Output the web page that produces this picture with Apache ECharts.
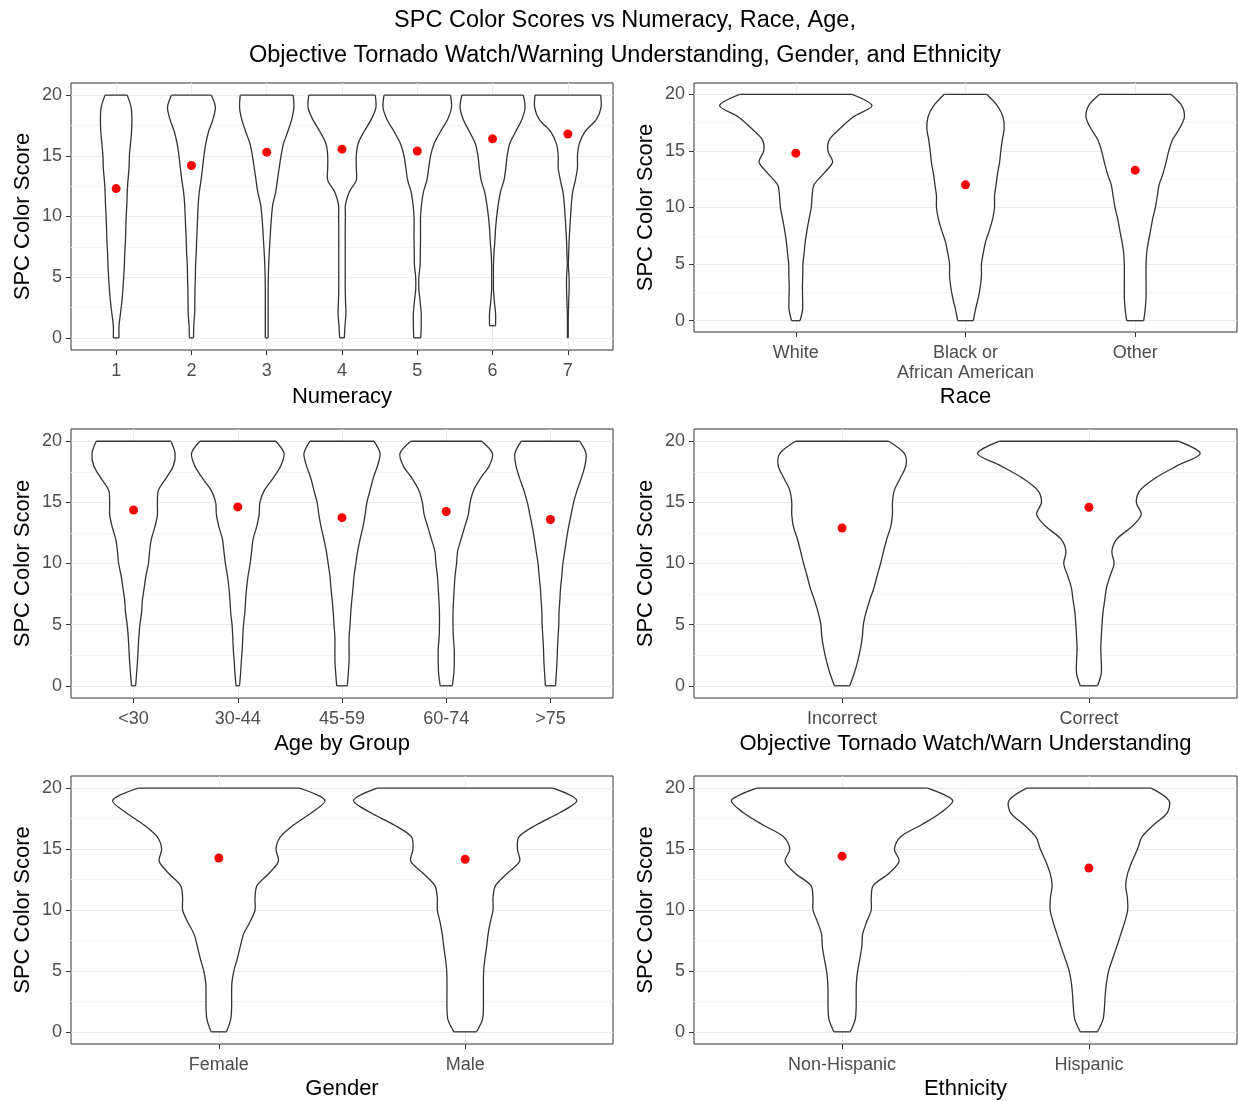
<!DOCTYPE html>
<html>
<head>
<meta charset="utf-8">
<script src="https://cdn.jsdelivr.net/npm/echarts@6/dist/echarts.min.js"></script>
<style>
  html, body { margin: 0; padding: 0; background: #fff; }
  #chart { width: 1238px; height: 1101px; }
</style>
</head>
<body>
<div id="chart"></div>
<script>
// score levels where the violin half-widths were read (0..20)
const scoreLevels = [0, 1, 2, 3, 4, 5, 6, 7, 8, 9, 10, 11, 12, 13, 14, 15, 16, 17, 18, 19, 20];
const yTicks = [0, 5, 10, 15, 20];
const yMinorTicks = [2.5, 7.5, 12.5, 17.5];

// Numeracy
const numCats = ['1', '2', '3', '4', '5', '6', '7'];
const numMeans = [12.3, 14.2, 15.3, 15.55, 15.4, 16.4, 16.8];
const numWidths = [
  [0.038, 0.038, 0.057, 0.076, 0.090, 0.100, 0.109, 0.114, 0.123, 0.128, 0.133, 0.142, 0.147, 0.157, 0.171, 0.176, 0.190, 0.204, 0.209, 0.199, 0.147],
  [0.028, 0.031, 0.043, 0.045, 0.047, 0.052, 0.055, 0.064, 0.069, 0.076, 0.083, 0.090, 0.104, 0.128, 0.147, 0.166, 0.190, 0.228, 0.285, 0.318, 0.266],
  [0.019, 0.019, 0.019, 0.019, 0.019, 0.021, 0.026, 0.033, 0.043, 0.052, 0.064, 0.081, 0.119, 0.142, 0.166, 0.190, 0.223, 0.280, 0.332, 0.361, 0.351],
  [0.031, 0.040, 0.052, 0.047, 0.043, 0.043, 0.043, 0.043, 0.043, 0.043, 0.045, 0.047, 0.095, 0.190, 0.190, 0.190, 0.213, 0.294, 0.389, 0.451, 0.441],
  [0.047, 0.052, 0.052, 0.038, 0.021, 0.021, 0.038, 0.040, 0.043, 0.043, 0.043, 0.057, 0.081, 0.128, 0.152, 0.176, 0.223, 0.308, 0.403, 0.455, 0.441],
  [null, 0.040, 0.040, 0.024, 0.012, 0.012, 0.012, 0.019, 0.031, 0.040, 0.055, 0.076, 0.104, 0.152, 0.176, 0.194, 0.228, 0.308, 0.389, 0.432, 0.408],
  [0.005, 0.005, 0.007, 0.012, 0.017, 0.017, 0.007, 0.012, 0.017, 0.026, 0.036, 0.047, 0.064, 0.100, 0.128, 0.128, 0.152, 0.228, 0.380, 0.441, 0.436]
];

// Race
const raceCats = ['White', 'Black or\nAfrican American', 'Other'];
const raceMeans = [14.8, 12.0, 13.3];
const raceWidths = [
  [0.025, 0.040, 0.040, 0.039, 0.041, 0.042, 0.049, 0.056, 0.066, 0.078, 0.091, 0.096, 0.107, 0.164, 0.217, 0.189, 0.198, 0.262, 0.338, 0.449, 0.331],
  [0.046, 0.059, 0.075, 0.087, 0.094, 0.094, 0.105, 0.119, 0.141, 0.160, 0.171, 0.171, 0.180, 0.189, 0.201, 0.208, 0.217, 0.228, 0.221, 0.187, 0.125],
  [0.050, 0.059, 0.064, 0.064, 0.064, 0.064, 0.068, 0.078, 0.091, 0.103, 0.119, 0.130, 0.141, 0.164, 0.182, 0.198, 0.221, 0.262, 0.290, 0.274, 0.210]
];

// Age by group
const ageCats = ['<30', '30-44', '45-59', '60-74', '>75'];
const ageMeans = [14.38, 14.63, 13.75, 14.25, 13.6];
const ageWidths = [
  [0.020, 0.029, 0.038, 0.044, 0.051, 0.061, 0.077, 0.085, 0.102, 0.119, 0.143, 0.154, 0.171, 0.205, 0.229, 0.229, 0.239, 0.314, 0.382, 0.399, 0.358],
  [0.017, 0.027, 0.034, 0.043, 0.048, 0.055, 0.068, 0.075, 0.085, 0.099, 0.119, 0.133, 0.147, 0.181, 0.205, 0.212, 0.256, 0.341, 0.413, 0.444, 0.365],
  [0.051, 0.060, 0.068, 0.068, 0.068, 0.077, 0.084, 0.094, 0.106, 0.116, 0.133, 0.150, 0.174, 0.201, 0.222, 0.239, 0.270, 0.300, 0.341, 0.365, 0.307],
  [0.058, 0.073, 0.077, 0.077, 0.068, 0.065, 0.065, 0.070, 0.077, 0.085, 0.099, 0.109, 0.143, 0.177, 0.212, 0.229, 0.263, 0.331, 0.413, 0.444, 0.341],
  [0.049, 0.056, 0.063, 0.067, 0.073, 0.080, 0.082, 0.090, 0.097, 0.109, 0.119, 0.137, 0.154, 0.174, 0.198, 0.222, 0.256, 0.297, 0.331, 0.341, 0.280]
];

// Objective tornado watch/warning understanding
const watchCats = ['Incorrect', 'Correct'];
const watchMeans = [12.9, 14.6];
const watchWidths = [
  [0.031, 0.049, 0.063, 0.074, 0.082, 0.086, 0.097, 0.112, 0.129, 0.142, 0.156, 0.168, 0.181, 0.197, 0.204, 0.204, 0.212, 0.236, 0.259, 0.252, 0.189],
  [0.035, 0.050, 0.050, 0.048, 0.050, 0.053, 0.057, 0.064, 0.071, 0.086, 0.102, 0.093, 0.113, 0.173, 0.212, 0.192, 0.208, 0.270, 0.358, 0.451, 0.362]
];

// Gender
const genderCats = ['Female', 'Male'];
const genderMeans = [14.27, 14.17];
const genderWidths = [
  [0.031, 0.048, 0.052, 0.052, 0.053, 0.061, 0.075, 0.087, 0.100, 0.126, 0.147, 0.147, 0.155, 0.203, 0.242, 0.232, 0.250, 0.305, 0.377, 0.431, 0.327],
  [0.046, 0.070, 0.074, 0.074, 0.074, 0.075, 0.080, 0.087, 0.093, 0.102, 0.113, 0.113, 0.123, 0.170, 0.221, 0.212, 0.218, 0.290, 0.385, 0.453, 0.357]
];

// Ethnicity
const ethCats = ['Non-Hispanic', 'Hispanic'];
const ethMeans = [14.42, 13.44];
const ethWidths = [
  [0.033, 0.053, 0.057, 0.057, 0.058, 0.063, 0.072, 0.080, 0.083, 0.099, 0.118, 0.118, 0.126, 0.189, 0.231, 0.212, 0.236, 0.322, 0.401, 0.448, 0.346],
  [0.035, 0.057, 0.063, 0.066, 0.071, 0.080, 0.096, 0.113, 0.129, 0.145, 0.157, 0.156, 0.149, 0.157, 0.175, 0.197, 0.215, 0.263, 0.318, 0.324, 0.252]
];

const FONT = '"Liberation Sans", Arial, sans-serif';
const LINE = { stroke: '#333', lineWidth: 1.3, fill: null };

const panels = [
  { cats: numCats, means: numMeans, widths: numWidths, name: 'Numeracy', nameGap: 36, box: { left: 71, top: 83, width: 542, height: 267 } },
  { cats: raceCats, means: raceMeans, widths: raceWidths, name: 'Race', nameGap: 54, box: { left: 694, top: 83, width: 543, height: 249 } },
  { cats: ageCats, means: ageMeans, widths: ageWidths, name: 'Age by Group', nameGap: 35, box: { left: 71, top: 429, width: 542, height: 269 } },
  { cats: watchCats, means: watchMeans, widths: watchWidths, name: 'Objective Tornado Watch/Warn Understanding', nameGap: 35, box: { left: 694, top: 429, width: 543, height: 269 } },
  { cats: genderCats, means: genderMeans, widths: genderWidths, name: 'Gender', nameGap: 34, box: { left: 71, top: 776, width: 542, height: 269 } },
  { cats: ethCats, means: ethMeans, widths: ethWidths, name: 'Ethnicity', nameGap: 34, box: { left: 694, top: 776, width: 543, height: 269 } }
];

const positions = cats => cats.map((c, i) => i + 1);

function violinRenderer(widths) {
  return function (params, api) {
    const pos = api.value(0);
    const w = widths[params.dataIndex];
    const left = [];
    const right = [];
    scoreLevels.forEach((y, k) => {
      if (w[k] == null) return;
      left.push(api.coord([pos - w[k], y]));
      right.push(api.coord([pos + w[k], y]));
    });
    const n = left.length - 1;
    return {
      type: 'group',
      children: [
        {
          type: 'polygon',
          shape: { points: left.concat(right.slice().reverse()) },
          style: { fill: '#fff', stroke: null }
        },
        { type: 'polyline', shape: { points: left, smooth: 0.3 }, style: LINE },
        { type: 'polyline', shape: { points: right, smooth: 0.3 }, style: LINE },
        { type: 'line', shape: { x1: left[0][0], y1: left[0][1], x2: right[0][0], y2: right[0][1] }, style: LINE },
        { type: 'line', shape: { x1: left[n][0], y1: left[n][1], x2: right[n][0], y2: right[n][1] }, style: LINE }
      ]
    };
  };
}

const chart = echarts.init(document.getElementById('chart'));

const option = {
  backgroundColor: '#fff',
  animation: false,
  textStyle: { fontFamily: FONT },
  title: {
    text: 'SPC Color Scores vs Numeracy, Race, Age,\nObjective Tornado Watch/Warning Understanding, Gender, and Ethnicity',
    left: 625,
    top: 3,
    padding: 0,
    textAlign: 'center',
    textStyle: { fontSize: 23.5, fontWeight: 'normal', color: '#000', lineHeight: 35, fontFamily: FONT }
  },
  grid: panels.map(p => Object.assign({ show: true, borderColor: '#333', borderWidth: 1, backgroundColor: '#fff' }, p.box)),
  xAxis: panels.map((p, i) => ({
    type: 'value',
    gridIndex: i,
    min: 0.4,
    max: p.cats.length + 0.6,
    axisLine: { show: false, onZero: false },
    axisTick: { show: true, length: 5, customValues: positions(p.cats), lineStyle: { color: '#333' } },
    axisLabel: {
      customValues: positions(p.cats),
      formatter: v => p.cats[Math.round(v) - 1],
      color: '#4d4d4d', fontSize: 18, margin: 11, lineHeight: 20, fontFamily: FONT
    },
    splitLine: { show: true, lineStyle: { color: '#ebebeb', width: 1 } },
    name: p.name,
    nameLocation: 'middle',
    nameGap: p.nameGap,
    nameTextStyle: { fontSize: 22, color: '#000', fontFamily: FONT }
  })),
  yAxis: panels.map((p, i) => ({
    type: 'value',
    gridIndex: i,
    min: -1,
    max: 21,
    axisLine: { show: false, onZero: false },
    axisTick: { show: true, length: 5, customValues: yTicks, lineStyle: { color: '#333' } },
    axisLabel: { customValues: yTicks, color: '#4d4d4d', fontSize: 18, margin: 9, fontFamily: FONT },
    splitLine: { show: true, lineStyle: { color: '#ebebeb', width: 1 } },
    name: 'SPC Color Score',
    nameLocation: 'middle',
    nameRotate: 90,
    nameGap: 37,
    nameTextStyle: { fontSize: 22, color: '#000', fontFamily: FONT }
  })).concat(panels.map((p, i) => ({
    type: 'value',
    gridIndex: i,
    min: -1,
    max: 21,
    axisLine: { show: false, onZero: false },
    axisTick: { show: false, customValues: yMinorTicks },
    axisLabel: { show: false, customValues: yMinorTicks },
    splitLine: { show: true, lineStyle: { color: '#f3f3f3', width: 1 } },
    z: 0
  }))),
  series: []
};

panels.forEach((p, i) => {
  option.series.push({
    type: 'custom',
    xAxisIndex: i,
    yAxisIndex: i,
    renderItem: violinRenderer(p.widths),
    encode: { x: 0, y: 1 },
    data: positions(p.cats).map(x => [x, 10]),
    silent: true,
    z: 2
  });
  option.series.push({
    type: 'scatter',
    xAxisIndex: i,
    yAxisIndex: i,
    symbol: 'circle',
    symbolSize: 9,
    itemStyle: { color: '#ff0000', opacity: 1 },
    data: p.means.map((m, k) => [k + 1, m]),
    z: 3
  });
});

chart.setOption(option);
</script>
</body>
</html>
